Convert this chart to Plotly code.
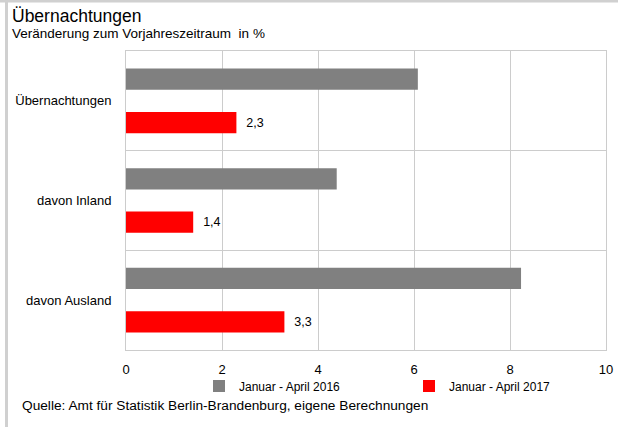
import plotly.graph_objects as go

categories = ["Übernachtungen", "davon Inland", "davon Ausland"]
series_names = ["Januar - April 2016", "Januar - April 2017"]
values_2016 = [6.08, 4.39, 8.23]
values_2017 = [2.3, 1.4, 3.3]
x_ticks = [0, 2, 4, 6, 8, 10]

W, H = 618, 427
L, R, T, B = 126, 12, 51, 77
PW, PH = W - L - R, H - T - B

def px_x(p):
    return (p - L) / PW

def px_y(p):
    return (H - B - p) / PH

FONT = "Liberation Sans, Arial, sans-serif"

fig = go.Figure()
fig.add_trace(go.Bar(
    y=categories, x=values_2016, orientation="h", name=series_names[0],
    marker=dict(color="#808080", line=dict(width=0)),
))
fig.add_trace(go.Bar(
    y=categories, x=values_2017, orientation="h", name=series_names[1],
    marker=dict(color="#ff0000", line=dict(width=0)),
    texttemplate="  %{x:.1f}", textposition="outside", cliponaxis=False,
    textfont=dict(size=12.5, color="#000000", family=FONT),
))

fig.update_layout(
    width=W, height=H,
    margin=dict(l=L, r=R, t=T, b=B, pad=0),
    paper_bgcolor="#ffffff", plot_bgcolor="#ffffff",
    separators=",.",
    barmode="group", bargap=0.13, bargroupgap=0.51,
    font=dict(family=FONT, size=12, color="#000000"),
    showlegend=True,
    legend=dict(
        orientation="h", xref="container", yref="container",
        x=199 / W, xanchor="left", y=1 - 386 / H, yanchor="middle",
        font=dict(size=12, family=FONT), entrywidth=165, entrywidthmode="pixels",
        bgcolor="rgba(0,0,0,0)", traceorder="normal",
    ),
    xaxis=dict(
        range=[0, 10], tickvals=x_ticks, showgrid=True, gridcolor="#cccccc", gridwidth=1,
        zeroline=False, showline=True, linecolor="#cccccc", linewidth=1, mirror=True,
        ticks="", tickfont=dict(size=13, family=FONT), ticklabelstandoff=7,
        fixedrange=True, automargin=False,
    ),
    yaxis=dict(
        autorange="reversed", type="category", tickson="boundaries", showgrid=True,
        gridcolor="#cccccc", gridwidth=1, showline=True, linecolor="#cccccc", linewidth=1,
        mirror=True, ticks="", tickfont=dict(size=13, family=FONT), ticklabelstandoff=11,
        fixedrange=True, automargin=False,
    ),
    annotations=[
        dict(text="Übernachtungen", xref="paper", yref="paper", x=px_x(10), y=px_y(16),
             xanchor="left", yanchor="middle", showarrow=False, font=dict(size=17.5, family=FONT)),
        dict(text="Veränderung zum Vorjahreszeitraum  in %", xref="paper", yref="paper",
             x=px_x(10), y=px_y(33), xanchor="left", yanchor="middle", showarrow=False,
             font=dict(size=13.5, family=FONT)),
        dict(text="Quelle: Amt für Statistik Berlin-Brandenburg, eigene Berechnungen",
             xref="paper", yref="paper", x=px_x(20), y=px_y(406), xanchor="left",
             yanchor="middle", showarrow=False, font=dict(size=13.7, family=FONT)),
    ],
    shapes=[
        dict(type="line", xref="paper", yref="paper", x0=px_x(0), x1=px_x(W), y0=px_y(1), y1=px_y(1),
             line=dict(color="#d0d0d0", width=3)),
        dict(type="line", xref="paper", yref="paper", x0=px_x(6.5), x1=px_x(6.5), y0=px_y(0), y1=px_y(H),
             line=dict(color="#d0d0d0", width=3)),
    ],
)

fig.write_html(
    "out.html",
    config={"displayModeBar": False},
    post_script="document.body.style.margin='0px';document.body.style.overflow='hidden';",
)
